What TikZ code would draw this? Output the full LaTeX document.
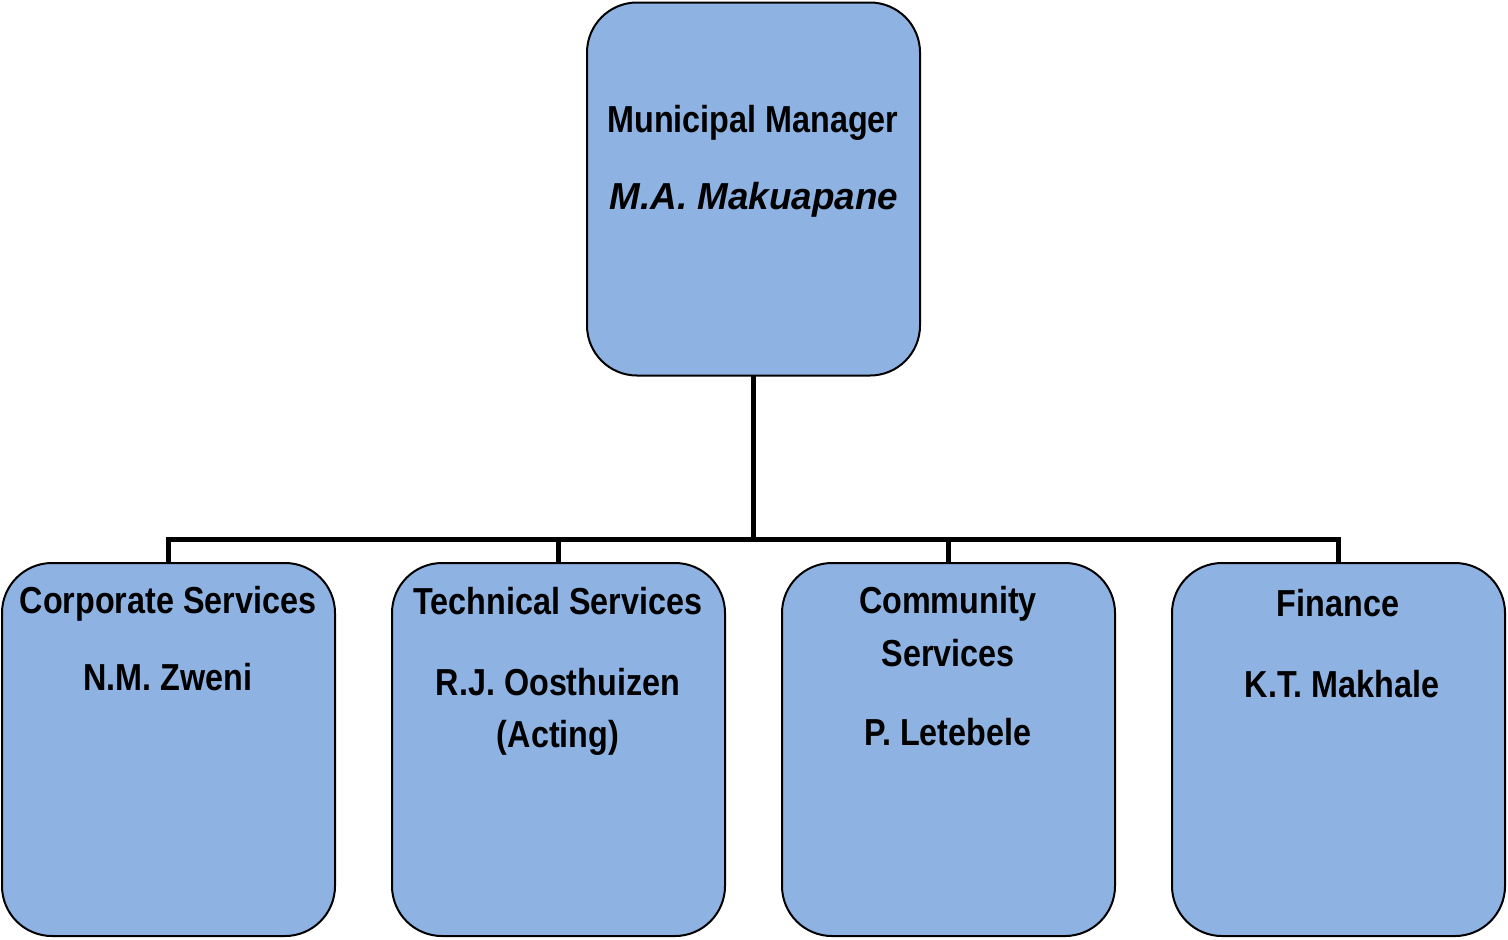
\documentclass[tikz,border=0pt]{standalone}
\usepackage{fontspec}
\setmainfont{Liberation Sans}[FakeStretch=0.86, BoldItalicFeatures={FakeStretch=0.98}]
\definecolor{boxblue}{HTML}{8EB3E2}
\begin{document}
\begin{tikzpicture}[x=0.5pt,y=-0.5pt,
  box/.style={draw=black, line width=1pt, fill=boxblue, rounded corners=25pt,
    minimum width=166.5pt, minimum height=186.5pt, inner sep=0pt, outer sep=0pt},
  conn/.style={draw=black, line width=2.5pt, line join=miter},
  txt/.style={anchor=base, inner sep=0pt, font=\fontsize{18.8}{22}\selectfont\bfseries}]
\useasboundingbox (0,0) rectangle (1508,939);
\node[box] (mm) at (753.5,189) {};
\node[box] (cs) at (168.5,749.5) {};
\node[box] (ts) at (558.5,749.5) {};
\node[box] (cm) at (948.5,749.5) {};
\node[box] (fi) at (1338.5,749.5) {};
\coordinate (bus) at (753.5,539);
\draw[conn] (mm.south) -- (mm.south |- bus);
\draw[conn] (cs.north) |- (fi.north |- bus) -- (fi.north);
\draw[conn] (ts.north) -- (ts.north |- bus);
\draw[conn] (cm.north) -- (cm.north |- bus);
% texts
\node[txt] (mm1) at (753,132) {Municipal Manager};
\node[txt] (mm2) at (754,209) {\itshape M.A. Makuapane};
\node[txt] (cs1) at (168,613) {Corporate Services};
\node[txt] (cs2) at (168,690) {N.M. Zweni};
\node[txt] (ts1) at (558,614) {Technical Services};
\node[txt] (ts2) at (558,695) {R.J. Oosthuizen};
\node[txt] (ts3) at (558,747) {(Acting)};
\node[txt] (cm1) at (948,613) {Community};
\node[txt] (cm2) at (948,666) {Services};
\node[txt] (cm3) at (948,745) {P. Letebele};
\node[txt] (fi1) at (1338,616) {Finance};
\node[txt] (fi2) at (1342,697) {K.T. Makhale};
\end{tikzpicture}
\end{document}
